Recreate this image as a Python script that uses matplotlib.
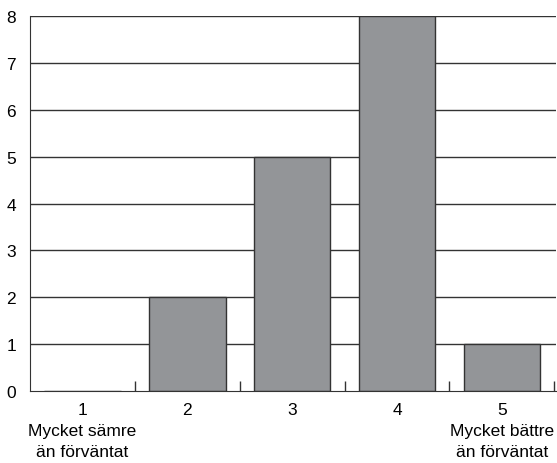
import matplotlib.pyplot as plt
from matplotlib.ticker import FixedLocator

plt.rcParams['font.family'] = ['Liberation Sans', 'DejaVu Sans']

scores = [1, 2, 3, 4, 5]
counts = [0, 2, 5, 8, 1]
xlabels = ['1\nMycket sämre\nän förväntat', '2', '3', '4', '5\nMycket bättre\nän förväntat']

fig = plt.figure(figsize=(5.57, 4.64), dpi=100)
ax = fig.add_axes([0.054, 0.155, 0.945, 0.808])

# grid lines behind the bars
for v in range(1, 9):
    ax.axhline(v, color='#333333', lw=1.0, zorder=1)

ax.bar(scores, counts, width=0.73, color='#939598', edgecolor='#333333', linewidth=1.0, zorder=2)

ax.set_xlim(0.5, 5.52)
ax.set_ylim(0, 8)
ax.set_yticks(range(0, 9))
ax.set_xticks(scores)
ax.set_xticklabels(xlabels, linespacing=1.5, va='top')
ax.xaxis.set_minor_locator(FixedLocator([1.5, 2.5, 3.5, 4.5, 5.5]))
ax.tick_params(axis='x', which='major', length=0, pad=8, labelsize=12.5)
ax.tick_params(axis='x', which='minor', direction='in', length=7, width=1, color='#333333')
ax.tick_params(axis='y', length=0, pad=10, labelsize=12.5)

for s in ['top', 'right']:
    ax.spines[s].set_visible(False)
ax.spines['left'].set_color('#333333')
ax.spines['bottom'].set_color('#333333')

fig.savefig('out.png', dpi=100)
